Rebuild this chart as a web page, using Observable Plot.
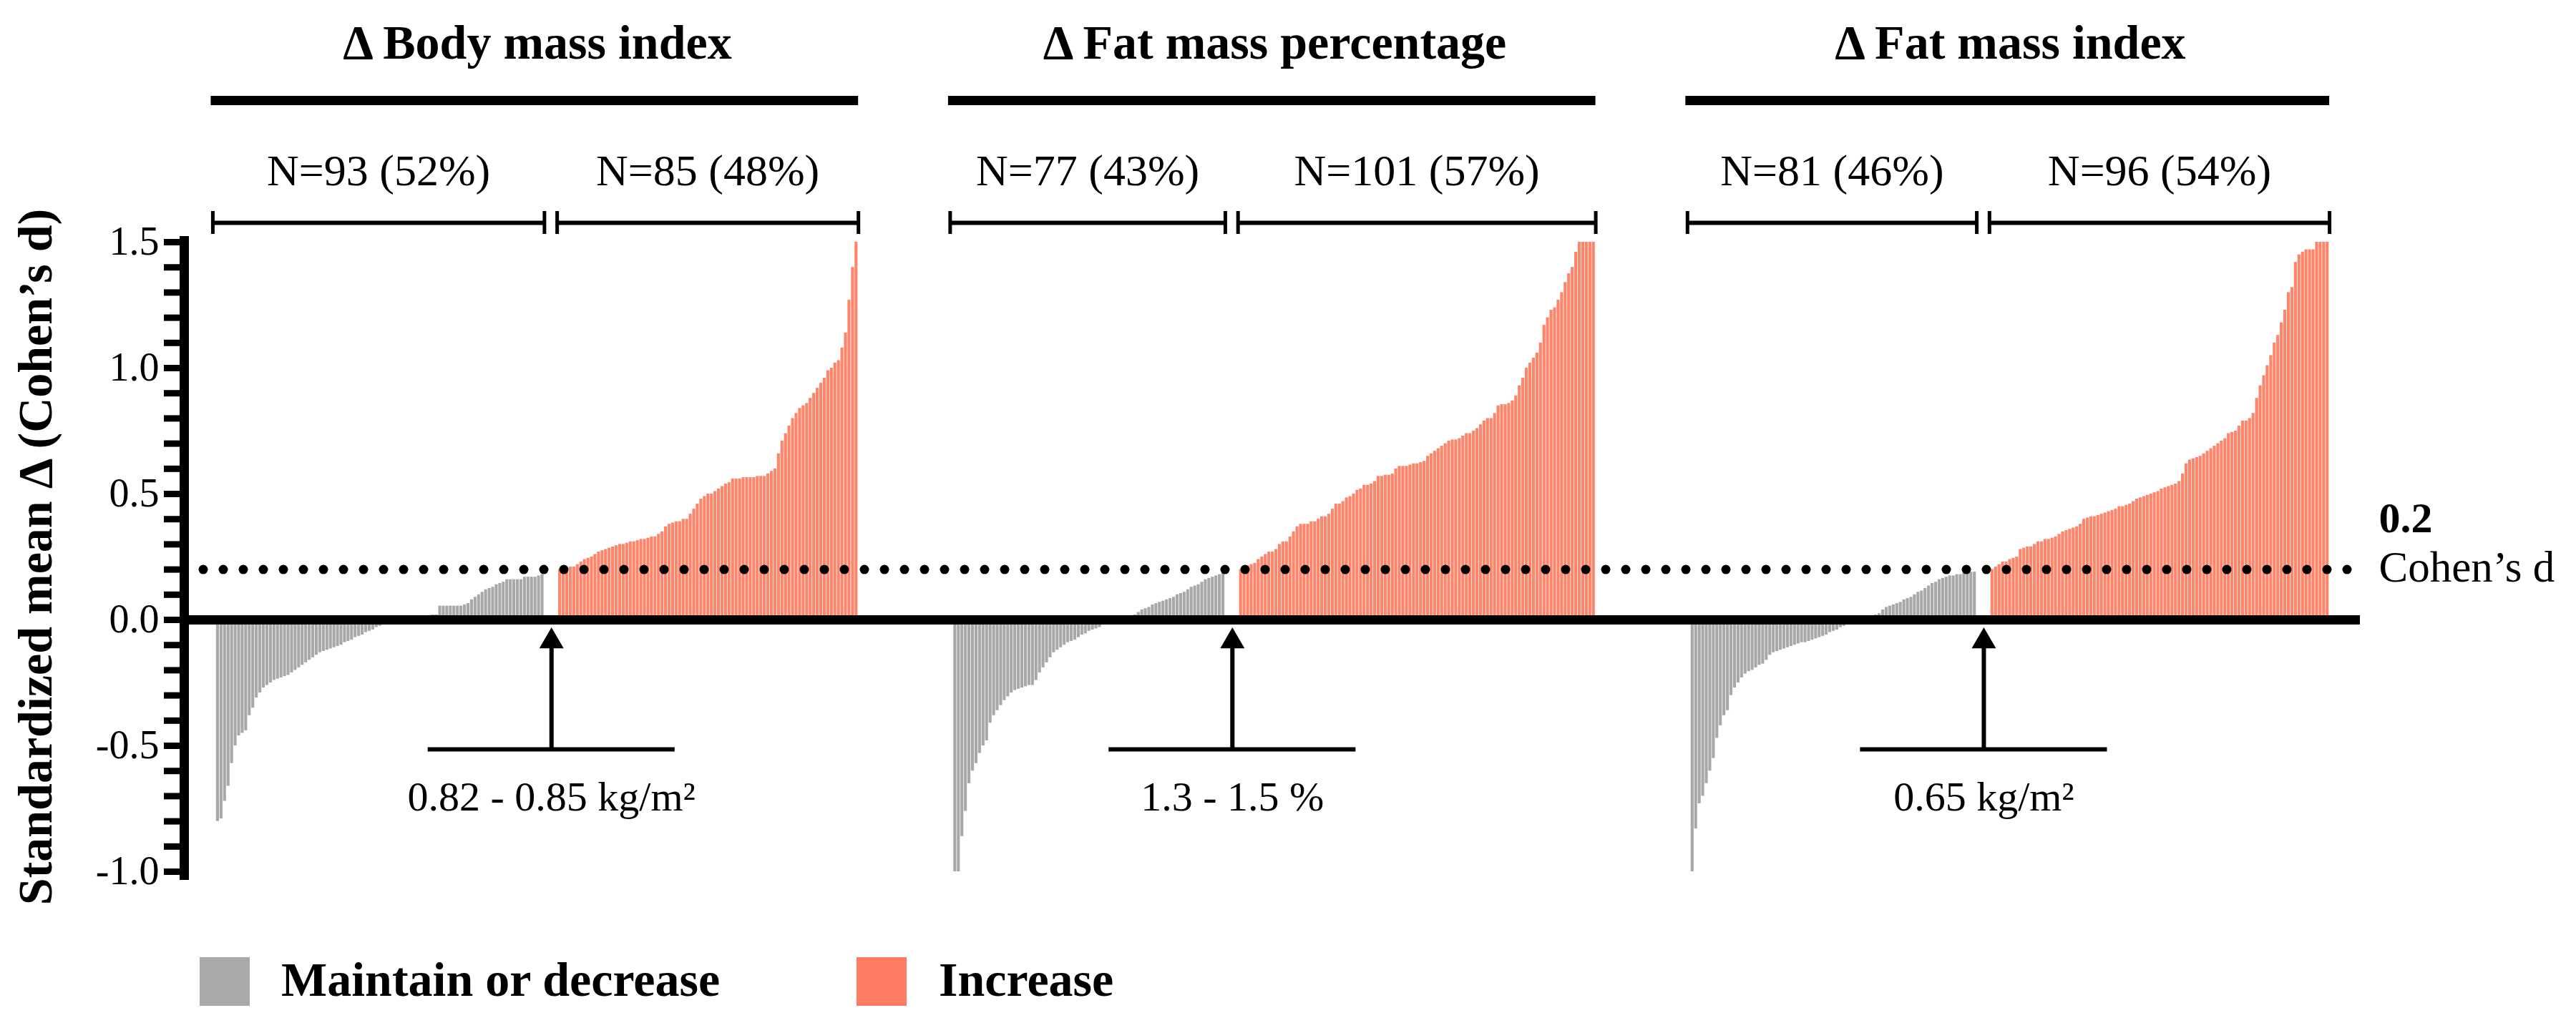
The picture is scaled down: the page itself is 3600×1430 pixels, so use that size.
<!DOCTYPE html>
<html>
<head>
<meta charset="utf-8">
<script src="https://cdn.jsdelivr.net/npm/d3@7"></script>
<script src="https://cdn.jsdelivr.net/npm/@observablehq/plot@0.6"></script>
<style>
  body { margin: 0; background: #fff; }
  #chart { width: 3600px; }
  #chart svg text, #chart svg tspan { font-family: "Liberation Serif", "Times New Roman", "DejaVu Serif", serif !important; }
  #legend { position: relative; width: 3600px; height: 130px; font-family: "Liberation Serif", "Times New Roman", "DejaVu Serif", serif; }
  .sw { position: absolute; width: 70px; height: 68px; }
  .lt { position: absolute; font-size: 68px; font-weight: bold; line-height: 68px; white-space: nowrap; }
</style>
</head>
<body>
<div id="chart"></div>
<div id="legend"></div>
<script>
// ---------- data ----------
const panelTitles = ["Δ Body mass index", "Δ Fat mass percentage", "Δ Fat mass index"];
const nLabelsDecrease = ["N=93 (52%)", "N=77 (43%)", "N=81 (46%)"];
const nLabelsIncrease = ["N=85 (48%)", "N=101 (57%)", "N=96 (54%)"];
const arrowLabels = ["0.82 - 0.85 kg/m²", "1.3 - 1.5 %", "0.65 kg/m²"];
const legendLabels = ["Maintain or decrease", "Increase"];
const yTicks = [-1.0, -0.5, 0.0, 0.5, 1.0, 1.5];
const cohenThreshold = 0.2;
const thresholdLabel = "Cohen’s d";
const yLabel = "Standardized mean Δ (Cohen’s d)";

const bmiDecrease = [-0.80,-0.79,-0.72,-0.66,-0.57,-0.50,-0.46,-0.45,-0.44,-0.38,-0.35,-0.31,-0.29,-0.27,-0.26,-0.25,-0.24,-0.235,-0.23,-0.225,
  -0.22,-0.21,-0.20,-0.19,-0.18,-0.17,-0.16,-0.15,-0.14,-0.13,-0.125,-0.12,-0.115,-0.11,-0.105,-0.10,-0.09,-0.085,-0.08,-0.07,
  -0.065,-0.06,-0.05,-0.045,-0.04,-0.03,-0.025,-0.015,-0.01,-0.005,-0.004,-0.003,-0.002,0.002,0.003,0.004,0.005,0.01,0.012,0.015,
  0.018,0.02,0.02,0.055,0.055,0.055,0.055,0.055,0.055,0.055,0.06,0.065,0.08,0.09,0.10,0.11,0.12,0.125,0.13,0.14,
  0.145,0.15,0.16,0.16,0.16,0.16,0.16,0.17,0.17,0.17,0.17,0.175,0.18];
const bmiIncrease = [0.20,0.20,0.205,0.21,0.21,0.22,0.23,0.24,0.245,0.25,0.26,0.27,0.275,0.28,0.285,0.29,0.295,0.30,0.30,0.305,
  0.31,0.31,0.315,0.32,0.32,0.325,0.33,0.33,0.34,0.35,0.37,0.38,0.385,0.39,0.39,0.40,0.40,0.42,0.44,0.46,
  0.48,0.49,0.50,0.50,0.51,0.52,0.53,0.54,0.545,0.56,0.56,0.56,0.565,0.565,0.565,0.565,0.57,0.57,0.57,0.58,
  0.59,0.60,0.66,0.71,0.74,0.77,0.80,0.82,0.84,0.85,0.86,0.88,0.90,0.92,0.94,0.96,0.99,1.00,1.02,1.03,
  1.08,1.14,1.27,1.40,1.50];
const fmpDecrease = [-1.0,-1.0,-0.86,-0.76,-0.65,-0.60,-0.57,-0.53,-0.50,-0.48,-0.41,-0.38,-0.36,-0.34,-0.32,-0.305,-0.29,-0.28,-0.275,-0.27,
  -0.265,-0.26,-0.26,-0.24,-0.21,-0.19,-0.17,-0.15,-0.13,-0.12,-0.11,-0.10,-0.09,-0.085,-0.08,-0.07,-0.06,-0.055,-0.045,-0.04,
  -0.035,-0.03,-0.02,-0.015,-0.01,-0.005,0.002,0.005,0.005,0.01,0.015,0.02,0.03,0.04,0.045,0.05,0.06,0.065,0.07,0.075,
  0.08,0.085,0.09,0.10,0.105,0.11,0.12,0.13,0.135,0.14,0.15,0.16,0.165,0.17,0.175,0.18,0.19];
const fmpIncrease = [0.20,0.21,0.215,0.22,0.225,0.24,0.25,0.26,0.27,0.27,0.28,0.30,0.31,0.31,0.33,0.35,0.37,0.38,0.38,0.38,
  0.39,0.39,0.40,0.41,0.41,0.42,0.44,0.46,0.46,0.47,0.485,0.49,0.50,0.515,0.52,0.535,0.535,0.54,0.55,0.57,
  0.57,0.575,0.575,0.58,0.60,0.61,0.61,0.61,0.615,0.62,0.62,0.625,0.63,0.65,0.66,0.67,0.68,0.69,0.70,0.71,
  0.715,0.715,0.72,0.73,0.74,0.74,0.75,0.76,0.775,0.79,0.80,0.80,0.82,0.85,0.855,0.855,0.86,0.87,0.89,0.93,
  0.96,1.00,1.02,1.04,1.06,1.10,1.17,1.20,1.23,1.24,1.27,1.30,1.34,1.375,1.40,1.46,1.50,1.50,1.50,1.50,
  1.50];
const fmiDecrease = [-1.0,-0.83,-0.73,-0.70,-0.65,-0.60,-0.55,-0.47,-0.42,-0.38,-0.36,-0.30,-0.27,-0.25,-0.23,-0.215,-0.205,-0.20,-0.19,-0.18,
  -0.175,-0.16,-0.14,-0.13,-0.125,-0.12,-0.115,-0.11,-0.105,-0.10,-0.095,-0.09,-0.09,-0.085,-0.08,-0.075,-0.07,-0.065,-0.06,-0.05,
  -0.045,-0.04,-0.03,-0.025,-0.015,-0.005,0.002,0.005,0.005,0.01,0.01,0.015,0.02,0.025,0.04,0.05,0.055,0.06,0.065,0.07,
  0.08,0.085,0.09,0.10,0.11,0.115,0.125,0.135,0.145,0.15,0.16,0.165,0.17,0.175,0.175,0.18,0.18,0.185,0.185,0.19,
  0.19];
const fmiIncrease = [0.20,0.21,0.22,0.23,0.23,0.24,0.245,0.25,0.28,0.285,0.29,0.29,0.30,0.31,0.31,0.32,0.32,0.325,0.33,0.34,
  0.35,0.355,0.36,0.365,0.37,0.38,0.40,0.405,0.41,0.41,0.415,0.42,0.425,0.43,0.435,0.44,0.45,0.45,0.455,0.46,
  0.47,0.48,0.485,0.49,0.495,0.50,0.505,0.51,0.52,0.525,0.53,0.535,0.54,0.55,0.58,0.62,0.635,0.64,0.645,0.65,
  0.66,0.67,0.68,0.69,0.70,0.71,0.72,0.74,0.745,0.75,0.77,0.79,0.79,0.80,0.82,0.88,0.93,0.97,1.01,1.05,
  1.10,1.13,1.18,1.23,1.30,1.32,1.42,1.45,1.46,1.47,1.47,1.47,1.50,1.50,1.50,1.50];

// ---------- layout (in bar slots) ----------
const series = [
  {decrease: bmiDecrease, increase: bmiIncrease},
  {decrease: fmpDecrease, increase: fmpIncrease},
  {decrease: fmiDecrease, increase: fmiIncrease}
];
const GROUP_GAP = 4, PANEL_GAP = 27, LEFT_PAD = 9.1, RIGHT_PAD = 8.7;
let pos = 0;
const bars = [], panels = [];
series.forEach((s, p) => {
  const start = pos;
  s.decrease.forEach(v => bars.push({pos: pos++, value: v, group: legendLabels[0]}));
  const decEnd = pos;
  pos += GROUP_GAP;
  const incStart = pos;
  s.increase.forEach(v => bars.push({pos: pos++, value: v, group: legendLabels[1]}));
  const end = pos;
  panels.push({title: panelTitles[p], start, decEnd, incStart, end,
    mid: (start + end) / 2, gapMid: (decEnd + incStart) / 2,
    nDec: nLabelsDecrease[p], nInc: nLabelsIncrease[p], arrow: arrowLabels[p]});
  pos += PANEL_GAP;
});
const lastEnd = panels[panels.length - 1].end;
const xDomain = [-LEFT_PAD, lastEnd + RIGHT_PAD];
const brackets = panels.flatMap(p => [
  {x1: p.start - 1, x2: p.decEnd, label: p.nDec},
  {x1: p.incStart - 0.4, x2: p.end, label: p.nInc}
]);
const bracketEnds = brackets.flatMap(b => [b.x1, b.x2]);

const yTop = d3.max(yTicks), yBottom = d3.min(yTicks);
const minorTicks = d3.range(Math.round(yBottom * 10), Math.round(yTop * 10) + 1).map(i => i / 10);

const GRAY = "#a8a8a8", SALMON = "#ff8469";
const SERIF = "Liberation Serif, Times New Roman, DejaVu Serif, serif";

const chart = Plot.plot({
  width: 3600, height: 1300,
  marginLeft: 257, marginRight: 302, marginTop: 338, marginBottom: 82,
  x: {domain: xDomain, axis: null},
  y: {domain: [yBottom, yTop], axis: null},
  color: {domain: legendLabels, range: [GRAY, SALMON]},
  style: {fontFamily: SERIF, background: "white", overflow: "visible", color: "black"},
  marks: [
    Plot.rect(bars, {x1: "pos", x2: d => d.pos + 1, y1: 0, y2: "value", fill: "group", insetRight: 0.8}),
    Plot.ruleY([0], {strokeWidth: 13, stroke: "black"}),
    Plot.ruleY([cohenThreshold], {strokeWidth: 13, stroke: "black", strokeDasharray: "0 28", strokeLinecap: "round", insetLeft: 27, insetRight: 12}),
    // y axis: thick tick dashes, labels, axis line
    Plot.ruleY(minorTicks, {x1: xDomain[0], x2: xDomain[0], insetLeft: -28, strokeWidth: 9, stroke: "black"}),
    Plot.axisY({ticks: yTicks, tickSize: 0, tickPadding: 35, fontSize: 56, label: null, fontFamily: SERIF,
      tickFormat: v => v.toFixed(1)}),
    Plot.ruleX([xDomain[0]], {y1: () => yTop, y2: () => yBottom, strokeWidth: 13, stroke: "black", insetTop: -8, insetBottom: -12}),
    // panel titles and heavy rules
    Plot.text(panels, {x: "mid", y: () => yTop, text: "title", dy: -257, lineAnchor: "bottom", fontSize: 68, fontWeight: "bold", fontFamily: SERIF}),
    Plot.ruleY(panels, {x1: d => d.start - 1.5, x2: "end", y: () => yTop, dy: -198, strokeWidth: 13, stroke: "black"}),
    // group labels and brackets
    Plot.text(brackets, {x: d => (d.x1 + d.x2) / 2, y: () => yTop, text: "label", dy: -80, lineAnchor: "bottom", fontSize: 62, fontFamily: SERIF}),
    Plot.ruleY(brackets, {x1: "x1", x2: "x2", y: () => yTop, dy: -27, strokeWidth: 6, stroke: "black"}),
    Plot.ruleX(bracketEnds, {y1: () => yTop, y2: () => yTop, dy: -27, insetTop: -16, insetBottom: -16, strokeWidth: 5, stroke: "black"}),
    // arrows
    Plot.ruleX(panels, {x: "gapMid", y1: () => 0, y2: () => yTicks[1], insetTop: 30, insetBottom: -5, strokeWidth: 6, stroke: "black"}),
    Plot.dot(panels, {x: "gapMid", y: () => 0, symbol: "triangle", r: 12.6, fill: "black", stroke: null, dy: 30}),
    Plot.ruleY(panels, {x1: d => d.gapMid - 35, x2: d => d.gapMid + 35, y: () => yTicks[1], dy: 5, strokeWidth: 6, stroke: "black"}),
    Plot.text(panels, {x: "gapMid", y: () => yTicks[1], text: "arrow", dy: 90, lineAnchor: "bottom", fontSize: 58, fontFamily: SERIF}),
    // threshold label
    Plot.text([cohenThreshold.toFixed(1)], {frameAnchor: "right", y: () => cohenThreshold, dx: 26, dy: -52, textAnchor: "start", lineAnchor: "bottom", fontSize: 60, fontWeight: "bold", fontFamily: SERIF}),
    Plot.text([thresholdLabel], {frameAnchor: "right", y: () => cohenThreshold, dx: 26, dy: 17, textAnchor: "start", lineAnchor: "bottom", fontSize: 61, fontFamily: SERIF}),
    // y label
    Plot.text([yLabel], {frameAnchor: "left", rotate: -90, dx: -207, textAnchor: "middle", lineAnchor: "middle", fontSize: 68, fontWeight: "bold", fontFamily: SERIF, ariaLabel: "ylabel"})
  ]
});
document.getElementById("chart").appendChild(chart);

// italic "d" in the y label
d3.select(chart).selectAll('g[aria-label="ylabel"] text').each(function() {
  const t = d3.select(this);
  const full = t.text();
  const head = full.slice(0, full.lastIndexOf("d)"));
  t.text(null);
  t.append("tspan").text(head);
  t.append("tspan").attr("font-style", "italic").text("d");
  t.append("tspan").text(")");
});

// legend below the chart
const legend = d3.select("#legend");
const legendItems = [
  {label: legendLabels[0], color: "#a9a9a9", sw: 279, tx: 393},
  {label: legendLabels[1], color: "#ff7c63", sw: 1197, tx: 1312}
];
legendItems.forEach(it => {
  legend.append("div").attr("class", "sw").style("left", it.sw + "px").style("top", "38px").style("background", it.color);
  legend.append("div").attr("class", "lt").style("left", it.tx + "px").style("top", "35px").text(it.label);
});
</script>
</body>
</html>
